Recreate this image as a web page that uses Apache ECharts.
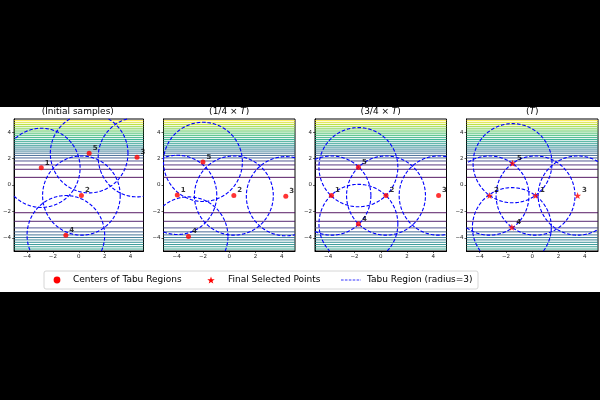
<!DOCTYPE html>
<html><head><meta charset="utf-8">
<script src="https://cdn.jsdelivr.net/npm/echarts@6/dist/echarts.min.js"></script>
<style>html,body{margin:0;padding:0;background:#000}#c{width:600px;height:400px}</style>
</head><body><div id="c"></div>
<script>
// ---- data ----
const panelTitles = ['(Initial samples)', '(1/4 × {i|T})', '(3/4 × {i|T})', '({i|T})'];
const pointLabels = ['1', '2', '3', '4', '5'];
const initX    = [-2.9, 0.2, 4.5, -1.0, 0.8];
const initY    = [1.3, -0.8, 2.1, -3.8, 2.4];
const quarterX = [-3.95, 0.35, 4.3, -3.1, -2.0];
const quarterY = [-0.75, -0.8, -0.85, -3.9, 1.75];
const threeQX  = [-3.75, 0.4, 4.4, -1.7, -1.7];
const threeQY  = [-0.8, -0.8, -0.8, -2.95, 1.35];
const finalX   = [0.25, -3.25, 3.45, -1.55, -1.5];
const finalY   = [-0.8, -0.8, -0.8, -3.2, 1.65];
const tabuRadius = 3;
const xTicks = [-4, -2, 0, 2, 4];
const yTicks = [-4, -2, 0, 2, 4];
const legendNames = ['Centers of Tabu Regions', 'Final Selected Points', 'Tabu Region (radius=3)'];
// horizontal contour lines: y position and level value (0 = lowest, 1 = highest)
const contourUpperY = [4.87, 4.72, 4.58, 4.44, 4.30, 4.16, 4.02, 3.88, 3.74, 3.59, 3.45, 3.31, 3.16, 3.01, 2.87, 2.72, 2.57, 2.41, 2.24, 2.05, 1.82, 1.52, 1.19, 0.58];
const contourUpperLevel = [1.0, 0.94, 0.89, 0.85, 0.81, 0.77, 0.74, 0.70, 0.67, 0.63, 0.60, 0.56, 0.53, 0.50, 0.46, 0.42, 0.38, 0.34, 0.30, 0.27, 0.20, 0.10, 0.05, 0.0];
const contourLowerY = [-2.1, -2.75, -3.25, -3.55, -3.78, -3.98, -4.16, -4.34, -4.51, -4.68, -4.85];
const contourLowerLevel = [0.0, 0.05, 0.20, 0.28, 0.33, 0.38, 0.42, 0.46, 0.50, 0.53, 0.56];

// ---- style helpers ----
const VIR = ['#440154','#482475','#414487','#355f8d','#2a788e','#21918c','#22a884','#44bf70','#7ad151','#bddf26','#fde725'];
function hex(c){return [parseInt(c.slice(1,3),16),parseInt(c.slice(3,5),16),parseInt(c.slice(5,7),16)];}
function viridis(t){
  t = Math.max(0, Math.min(1, t));
  const s = t * (VIR.length - 1), i = Math.min(Math.floor(s), VIR.length - 2), f = s - i;
  const a = hex(VIR[i]), b = hex(VIR[i+1]);
  return 'rgb(' + a.map((v,k)=>Math.round(v + (b[k]-v)*f)).join(',') + ')';
}
const STAR = 'path://M0,-10L2.35,-3.24L9.51,-3.09L3.8,1.24L5.88,8.09L0,4L-5.88,8.09L-3.8,1.24L-9.51,-3.09L-2.35,-3.24Z';
const FONT = 'DejaVu Sans';
const XMIN=-5, XMAX=5, YMIN=-5, YMAX=5;
const fmt = v => v < 0 ? '\u2212' + Math.abs(v) : String(v);

const contourData = contourUpperY.map((y,i)=>[y, contourUpperLevel[i]])
  .concat(contourLowerY.map((y,i)=>[y, contourLowerLevel[i]]));

function contourItem(params, api){
  const y = api.value(0), lvl = api.value(1);
  const p1 = api.coord([XMIN, y]), p2 = api.coord([XMAX, y]);
  return {type:'line', shape:{x1:p1[0], y1:p1[1], x2:p2[0], y2:p2[1]},
          style:{stroke: viridis(lvl), lineWidth: 0.9}};
}
function clipSeg(x0,y0,x1,y1){
  let t0=0, t1=1; const dx=x1-x0, dy=y1-y0;
  const p=[-dx,dx,-dy,dy], q=[x0-XMIN, XMAX-x0, y0-YMIN, YMAX-y0];
  for(let k=0;k<4;k++){
    if(p[k]===0){ if(q[k]<0) return null; }
    else { const r=q[k]/p[k];
      if(p[k]<0){ if(r>t1) return null; if(r>t0) t0=r; }
      else { if(r<t0) return null; if(r<t1) t1=r; } }
  }
  return [t0,t1];
}
function circleItem(params, api){
  const cx = api.value(0), cy = api.value(1), R = tabuRadius, N = 360;
  const pts = [];
  for(let i=0;i<=N;i++){ const a = i/N*Math.PI*2; pts.push([cx+R*Math.cos(a), cy+R*Math.sin(a)]); }
  const runs = []; let cur = null;
  for(let i=0;i<N;i++){
    const a=pts[i], b=pts[i+1];
    const c = clipSeg(a[0],a[1],b[0],b[1]);
    if(!c){ if(cur){runs.push(cur);cur=null;} continue; }
    const A=[a[0]+(b[0]-a[0])*c[0], a[1]+(b[1]-a[1])*c[0]];
    const B=[a[0]+(b[0]-a[0])*c[1], a[1]+(b[1]-a[1])*c[1]];
    if(!cur || c[0]>0){ if(cur) runs.push(cur); cur=[A]; }
    cur.push(B);
    if(c[1]<1){ runs.push(cur); cur=null; }
  }
  if(cur) runs.push(cur);
  return {type:'group', children: runs.map(r=>({type:'polyline',
    shape:{points:r.map(p=>api.coord(p))},
    style:{stroke:'#0000ff', fill:null, lineWidth:1.1, lineDash:[3.6,1.8]}}))};
}

const panels = [[initX,initY],[quarterX,quarterY],[threeQX,threeQY],[finalX,finalY]];
const lefts = [12, 163.5, 315, 466.5];
const W = 131.5, TOP = 119, H = 132;

const grid=[], xAxis=[], yAxis=[], series=[], title=[];
panels.forEach((pn, i)=>{
  grid.push({left:lefts[i], top:TOP, width:W, height:H, show:true, borderColor:'#000', borderWidth:1, backgroundColor:'transparent'});
  const axCommon = {type:'value', gridIndex:i, splitLine:{show:false},
    axisLine:{show:true, onZero:false, lineStyle:{color:'#000', width:1}}};
  xAxis.push(Object.assign({}, axCommon, {min:XMIN, max:XMAX,
    axisTick:{show:true, length:2, lineStyle:{color:'#000', width:0.6}, customValues:xTicks},
    axisLabel:{customValues:xTicks, fontSize:5.5, color:'#222', margin:3, fontFamily:FONT, formatter:fmt}}));
  yAxis.push(Object.assign({}, axCommon, {min:YMIN, max:YMAX,
    axisTick:{show:true, length:2, lineStyle:{color:'#000', width:0.6}, customValues:yTicks},
    axisLabel:{customValues:yTicks, fontSize:5.5, color:'#222', margin:3, fontFamily:FONT, formatter:fmt}}));
  title.push({text:panelTitles[i], left:lefts[i]+W/2, top:107, padding:0, textAlign:'center',
    textStyle:{fontSize:9, fontWeight:'normal', color:'#000', fontFamily:FONT,
      rich:{i:{fontSize:9, fontStyle:'italic', color:'#000', fontFamily:FONT}}}});
  series.push({type:'custom', xAxisIndex:i, yAxisIndex:i, renderItem:contourItem, data:contourData, z:1, silent:true});
  series.push({type:'custom', name:legendNames[2], xAxisIndex:i, yAxisIndex:i, renderItem:circleItem,
    itemStyle:{color:'#0000ff'}, data:pn[0].map((x,k)=>[x, pn[1][k]]), z:3, silent:true});
  const isFinal = i===3;
  series.push({type:'scatter', name: isFinal?legendNames[1]:legendNames[0],
    xAxisIndex:i, yAxisIndex:i, symbol: isFinal?STAR:'circle', symbolSize: isFinal?7:5,
    itemStyle:{color:'#ff0000'}, z:5, silent:true,
    data: pn[0].map((x,k)=>[x, pn[1][k], pointLabels[k]]),
    label:{show:true, position:'right', distance:1, offset:[0,-5], formatter:p=>p.value[2],
      fontSize:7, fontWeight:'bold', color:'#000', fontFamily:FONT}});
});

// legend box drawn as graphic for exact placement (real text)
const LY = 280;
const starPts = [];
for (let k = 0; k < 10; k++) {
  const a = -Math.PI/2 + k*Math.PI/5, r = (k % 2 === 0) ? 3.9 : 1.55;
  starPts.push([211 + r*Math.cos(a), LY + 0.4 + r*Math.sin(a)]);
}
const legendGraphic = [
  {type:'rect', shape:{x:44, y:271, width:434, height:18, r:2}, style:{fill:'#fff', stroke:'#cccccc', lineWidth:0.8}, z:10, silent:true},
  {type:'circle', shape:{cx:57, cy:LY, r:3.4}, style:{fill:'#ff0000'}, z:11, silent:true},
  {type:'polygon', shape:{points:starPts}, style:{fill:'#ff0000'}, z:11, silent:true},
  {type:'line', shape:{x1:341, y1:LY, x2:361, y2:LY}, style:{stroke:'#0000ff', lineWidth:0.8, lineDash:[2.6,1.3]}, z:11, silent:true},
  {type:'text', x:73, y:LY, style:{text:legendNames[0], fontSize:9, fontFamily:FONT, fill:'#000', verticalAlign:'middle'}, z:11, silent:true},
  {type:'text', x:228, y:LY, style:{text:legendNames[1], fontSize:9, fontFamily:FONT, fill:'#000', verticalAlign:'middle'}, z:11, silent:true},
  {type:'text', x:367, y:LY, style:{text:legendNames[2], fontSize:9, fontFamily:FONT, fill:'#000', verticalAlign:'middle'}, z:11, silent:true}
];

const chart = echarts.init(document.getElementById('c'), null, {renderer:'canvas'});
chart.setOption({
  backgroundColor:'#000',
  animation:false,
  graphic:[{type:'rect', shape:{x:0, y:107, width:600, height:185}, style:{fill:'#fff'}, z:-100, silent:true}].concat(legendGraphic),
  title, grid, xAxis, yAxis, series
});
</script></body></html>
